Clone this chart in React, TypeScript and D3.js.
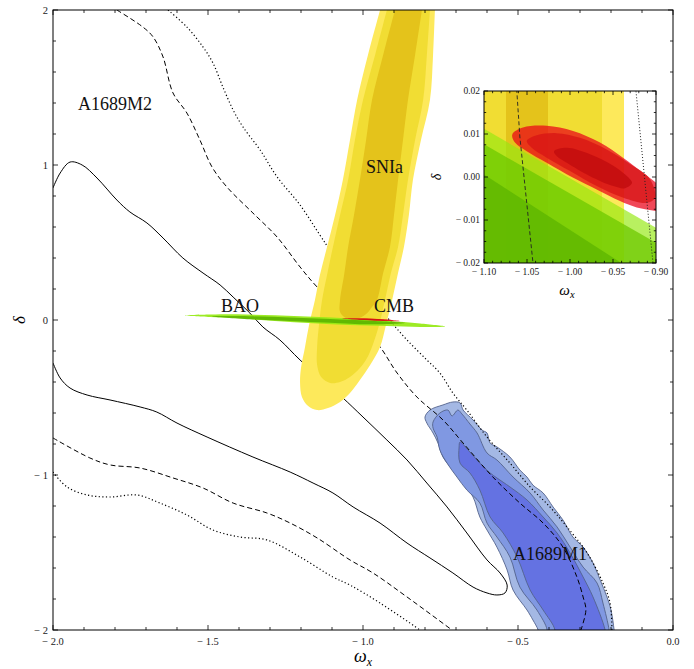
import React from 'react';
import * as d3 from 'd3';

type P = [number, number];

// ---------- A1689M2 (black contours) ----------
const m2Solid: P[] = [
  [-2.0, 0.852], [-1.977, 0.948], [-1.945, 1.019], [-1.906, 1.0], [-1.858, 0.916], [-1.794, 0.774],
  [-1.752, 0.697], [-1.697, 0.626], [-1.645, 0.529], [-1.581, 0.4], [-1.516, 0.303], [-1.461, 0.226],
  [-1.419, 0.148], [-1.365, 0.045], [-1.323, -0.045], [-1.268, -0.129], [-1.203, -0.258], [-1.068, -0.497],
  [-1.0, -0.626], [-0.923, -0.774], [-0.858, -0.903], [-0.794, -1.052], [-0.729, -1.206], [-0.665, -1.374],
  [-0.6, -1.548], [-0.558, -1.632], [-0.535, -1.71], [-0.542, -1.761], [-0.568, -1.774], [-0.6, -1.761],
  [-0.645, -1.723], [-0.71, -1.632], [-0.784, -1.535], [-0.858, -1.439], [-0.945, -1.31], [-1.032, -1.206],
  [-1.097, -1.116], [-1.161, -1.052], [-1.235, -0.981], [-1.355, -0.884], [-1.503, -0.755], [-1.6, -0.665],
  [-1.665, -0.594], [-1.719, -0.561], [-1.816, -0.516], [-1.89, -0.484], [-1.945, -0.439], [-1.977, -0.374],
  [-2.0, -0.277],
];
const m2DashedUpper: P[] = [
  [-1.794, 2.0], [-1.71, 1.89], [-1.677, 1.826], [-1.645, 1.697], [-1.613, 1.465], [-1.568, 1.335],
  [-1.526, 1.161], [-1.487, 0.987], [-1.439, 0.858], [-1.355, 0.69], [-1.277, 0.535], [-1.203, 0.342],
  [-1.148, 0.213], [-1.052, 0.032], [-0.955, -0.148], [-0.89, -0.342], [-0.826, -0.497], [-0.742, -0.645],
  [-0.677, -0.794], [-0.581, -1.013], [-0.494, -1.181], [-0.419, -1.31], [-0.355, -1.465], [-0.31, -1.658],
  [-0.29, -1.787], [-0.281, -1.871], [-0.297, -2.0],
];
const m2DashedLower: P[] = [
  [-2.0, -0.761], [-1.881, -0.89], [-1.816, -0.935], [-1.719, -0.955], [-1.613, -1.019], [-1.516, -1.084],
  [-1.419, -1.181], [-1.31, -1.245], [-1.235, -1.31], [-1.148, -1.406], [-1.042, -1.548], [-0.968, -1.632],
  [-0.858, -1.787], [-0.713, -2.0],
];
const m2DottedUpper: P[] = [
  [-1.629, 2.0], [-1.568, 1.89], [-1.516, 1.761], [-1.484, 1.658], [-1.452, 1.503], [-1.419, 1.355],
  [-1.387, 1.245], [-1.332, 1.097], [-1.277, 0.923], [-1.203, 0.742], [-1.139, 0.548], [-1.106, 0.452],
  [-1.01, 0.226], [-0.923, 0.019], [-0.858, -0.129], [-0.794, -0.258], [-0.752, -0.342], [-0.71, -0.471],
  [-0.665, -0.581], [-0.6, -0.755], [-0.526, -0.923], [-0.461, -1.077], [-0.397, -1.206], [-0.342, -1.335],
  [-0.277, -1.503], [-0.226, -1.697], [-0.203, -1.826], [-0.197, -2.0],
];
const m2DottedLower: P[] = [
  [-2.0, -0.981], [-1.955, -1.077], [-1.89, -1.129], [-1.816, -1.142], [-1.729, -1.129], [-1.655, -1.181],
  [-1.568, -1.258], [-1.484, -1.355], [-1.397, -1.4], [-1.31, -1.419], [-1.203, -1.529], [-1.097, -1.658],
  [-1.042, -1.71], [-0.945, -1.826], [-0.816, -2.0],
];

// ---------- SNIa ----------
const snOuter: P[] = [
  [-0.932, 2.1], [-0.945, 2.0], [-0.984, 1.71], [-1.019, 1.419], [-1.042, 1.161], [-1.065, 0.903],
  [-1.09, 0.677], [-1.116, 0.471], [-1.139, 0.29], [-1.155, 0.129], [-1.174, -0.032], [-1.187, -0.174],
  [-1.2, -0.31], [-1.203, -0.406], [-1.197, -0.497], [-1.177, -0.555], [-1.148, -0.581], [-1.113, -0.568],
  [-1.074, -0.529], [-1.042, -0.471], [-1.01, -0.387], [-0.977, -0.29], [-0.945, -0.174], [-0.926, -0.032],
  [-0.906, 0.129], [-0.887, 0.303], [-0.868, 0.471], [-0.852, 0.677], [-0.839, 0.903], [-0.813, 1.161],
  [-0.784, 1.419], [-0.774, 1.71], [-0.768, 2.0], [-0.766, 2.1],
];
const snMid: P[] = [
  [-0.91, 2.1], [-0.923, 2.0], [-0.961, 1.71], [-1.0, 1.419], [-1.026, 1.161], [-1.048, 0.903],
  [-1.074, 0.677], [-1.097, 0.471], [-1.116, 0.29], [-1.132, 0.129], [-1.142, -0.032], [-1.148, -0.174],
  [-1.148, -0.29], [-1.135, -0.368], [-1.106, -0.406], [-1.074, -0.4], [-1.042, -0.368], [-1.01, -0.31],
  [-0.987, -0.245], [-0.971, -0.174], [-0.948, -0.032], [-0.929, 0.129], [-0.91, 0.303], [-0.887, 0.471],
  [-0.871, 0.677], [-0.855, 0.903], [-0.832, 1.161], [-0.806, 1.419], [-0.794, 1.71], [-0.784, 2.0],
  [-0.781, 2.1],
];
const snInner: P[] = [
  [-0.884, 2.1], [-0.897, 2.0], [-0.935, 1.71], [-0.971, 1.419], [-0.99, 1.161], [-1.01, 0.903],
  [-1.029, 0.677], [-1.048, 0.471], [-1.061, 0.29], [-1.074, 0.129], [-1.074, 0.052], [-1.055, 0.013],
  [-1.023, 0.006], [-0.99, 0.039], [-0.971, 0.084], [-0.955, 0.129], [-0.935, 0.303], [-0.913, 0.471],
  [-0.9, 0.677], [-0.887, 0.903], [-0.871, 1.161], [-0.855, 1.419], [-0.832, 1.71], [-0.81, 2.0],
  [-0.803, 2.1],
];

// ---------- BAO ----------
const baoOuter: P[] = [
  [-1.574, 0.029], [-1.494, 0.035], [-1.406, 0.037], [-1.284, 0.03], [-1.161, 0.021], [-1.042, 0.01],
  [-0.923, -0.005], [-0.816, -0.023], [-0.735, -0.042], [-0.816, -0.045], [-0.923, -0.039], [-1.042, -0.032],
  [-1.161, -0.021], [-1.284, -0.006], [-1.406, 0.011], [-1.494, 0.019],
];
const baoInner: P[] = [
  [-1.487, 0.023], [-1.365, 0.024], [-1.235, 0.016], [-1.106, 0.006], [-0.977, -0.005], [-0.865, -0.019],
  [-0.977, -0.028], [-1.106, -0.018], [-1.235, -0.006], [-1.365, 0.005],
];

// ---------- CMB ----------
const cmbOuter: P[] = [
  [-1.0671, 0.0099], [-1.0547, 0.0115], [-1.0271, 0.0119], [-0.9965, 0.0107], [-0.9651, 0.008],
  [-0.9384, 0.0045], [-0.9151, 0.001], [-0.9003, -0.0013], [-0.8837, -0.0044], [-0.8814, -0.0065],
  [-0.886, -0.0084], [-0.9003, -0.0079], [-0.9224, -0.0071], [-0.9419, -0.0056], [-0.969, -0.0029],
  [-0.9962, -0.0002], [-1.0271, 0.0033], [-1.0503, 0.006], [-1.064, 0.008],
];
const cmbMid: P[] = [
  [-1.0503, 0.0084], [-1.0387, 0.0097], [-1.0155, 0.0102], [-0.9884, 0.0091], [-0.9573, 0.0064],
  [-0.9302, 0.003], [-0.907, -0.0005], [-0.9012, -0.0048], [-0.9108, -0.006], [-0.938, -0.0048],
  [-0.969, -0.0021], [-1.0, 0.0014], [-1.0271, 0.0045], [-1.0445, 0.0068],
];
const cmbInner: P[] = [
  [-1.0186, 0.006], [-1.0038, 0.0068], [-0.9767, 0.0053], [-0.9497, 0.0026], [-0.9302, -0.0005],
  [-0.9279, -0.0014], [-0.936, -0.0026], [-0.9497, -0.0021], [-0.9767, 0.0002], [-1.0038, 0.0033],
  [-1.0155, 0.0049],
];

// ---------- A1689M1 (blue) ----------
const m1Outer: P[] = [
  [-0.8, -0.626], [-0.784, -0.581], [-0.742, -0.548], [-0.71, -0.529], [-0.687, -0.535], [-0.677, -0.581],
  [-0.645, -0.645], [-0.616, -0.71], [-0.6, -0.729], [-0.59, -0.794], [-0.568, -0.819], [-0.526, -0.884],
  [-0.494, -0.968], [-0.471, -1.013], [-0.452, -1.065], [-0.419, -1.116], [-0.387, -1.206], [-0.355, -1.29],
  [-0.323, -1.4], [-0.29, -1.465], [-0.258, -1.568], [-0.235, -1.677], [-0.213, -1.787], [-0.2, -1.871],
  [-0.19, -2.0], [-0.187, -2.065], [-0.429, -2.065], [-0.435, -2.0], [-0.452, -1.935], [-0.471, -1.871],
  [-0.516, -1.742], [-0.535, -1.613], [-0.568, -1.465], [-0.6, -1.355], [-0.623, -1.271], [-0.645, -1.142],
  [-0.677, -1.052], [-0.71, -0.968], [-0.742, -0.884], [-0.758, -0.794], [-0.774, -0.729], [-0.794, -0.665],
];
const m1Mid: P[] = [
  [-0.774, -0.658], [-0.752, -0.6], [-0.726, -0.581], [-0.713, -0.619], [-0.694, -0.581], [-0.681, -0.606],
  [-0.655, -0.671], [-0.632, -0.729], [-0.6, -0.858], [-0.568, -0.903], [-0.516, -1.013], [-0.461, -1.116],
  [-0.419, -1.226], [-0.374, -1.335], [-0.332, -1.465], [-0.29, -1.594], [-0.245, -1.697], [-0.226, -1.826],
  [-0.206, -2.0], [-0.203, -2.065], [-0.41, -2.065], [-0.406, -2.0], [-0.439, -1.871], [-0.494, -1.723],
  [-0.526, -1.529], [-0.568, -1.4], [-0.6, -1.31], [-0.623, -1.181], [-0.665, -1.097], [-0.697, -1.013],
  [-0.729, -0.923], [-0.752, -0.839], [-0.761, -0.755], [-0.774, -0.697],
];
const m1Inner: P[] = [
  [-0.687, -0.787], [-0.661, -0.839], [-0.623, -0.923], [-0.59, -0.987], [-0.568, -1.019], [-0.526, -1.077],
  [-0.471, -1.161], [-0.419, -1.271], [-0.374, -1.374], [-0.332, -1.503], [-0.29, -1.658], [-0.258, -1.787],
  [-0.219, -2.0], [-0.216, -2.065], [-0.387, -2.065], [-0.381, -2.0], [-0.419, -1.871], [-0.461, -1.742],
  [-0.503, -1.529], [-0.548, -1.374], [-0.59, -1.271], [-0.623, -1.097], [-0.655, -0.987], [-0.687, -0.923],
  [-0.69, -0.819],
];

// ---------- Inset (zoom around ω=-1, δ=0) ----------
const insetSnOuter: [number, number] = [-1.2, -0.9372];
const insetSnMid: [number, number] = [-1.2, -0.9628];
const insetSnInner: [number, number] = [-1.0744, -1.0256];
const insetBaoLight: P[] = [[-1.1, 0.0112], [-0.9, -0.0118]];
const insetBaoMid: P[] = [[-1.1, 0.0076], [-0.9, -0.0153]];
const insetBaoDark: P[] = [[-1.1, 0.0006], [-0.9, -0.0252]];
const insetDashed: P[] = [[-1.0625, 0.022], [-1.0583, 0.0093], [-1.042, -0.022]];
const insetDotted: P[] = [[-0.9243, 0.022], [-0.9025, -0.022]];

// ---------- Ticks ----------
const xMajor = [-2, -1.5, -1, -0.5, 0];
const xMajorLabels = ['\u2212\u00a02.0', '\u2212\u00a01.5', '\u2212\u00a01.0', '\u2212\u00a00.5', '0.0'];
const yMajor = [-2, -1, 0, 1, 2];
const yMajorLabels = ['\u2212\u00a02', '\u2212\u00a01', '0', '1', '2'];
const ixMajor = [-1.1, -1.05, -1.0, -0.95, -0.9];
const ixMajorLabels = ['\u2212\u00a01.10', '\u2212\u00a01.05', '\u2212\u00a01.00', '\u2212\u00a00.95', '\u2212\u00a00.90'];
const iyMajor = [-0.02, -0.01, 0, 0.01, 0.02];
const iyMajorLabels = ['\u2212\u00a00.02', '\u2212\u00a00.01', '0.00', '0.01', '0.02'];

const FONT = '"Liberation Serif", "Times New Roman", serif';

const x = d3.scaleLinear().domain([-2, 0]).range([53, 673]);
const y = d3.scaleLinear().domain([-2, 2]).range([630, 10]);
const xi = d3.scaleLinear().domain([-1.1, -0.9]).range([484, 656]);
const yi = d3.scaleLinear().domain([-0.02, 0.02]).range([263, 91]);

const openLine = d3.line<P>().x(d => x(d[0])).y(d => y(d[1])).curve(d3.curveCatmullRom.alpha(0.5));
const closedArea = d3.line<P>().x(d => x(d[0])).y(d => y(d[1])).curve(d3.curveCatmullRomClosed.alpha(0.5));
const iClosed = d3.line<P>().x(d => xi(d[0])).y(d => yi(d[1])).curve(d3.curveCatmullRomClosed.alpha(0.5));
const iLine = d3.line<P>().x(d => xi(d[0])).y(d => yi(d[1]));

function bandPoly(edge: P[]): string {
  const slope = (edge[1][1] - edge[0][1]) / (edge[1][0] - edge[0][0]);
  const pts: P[] = [
    [edge[0][0] - 0.01, edge[0][1] - 0.01 * slope],
    ...edge,
    [edge[edge.length - 1][0] + 0.01, edge[edge.length - 1][1] + 0.01 * slope],
    [-0.89, -0.03],
    [-1.11, -0.03],
  ];
  return d3.line<P>().x(d => xi(d[0])).y(d => yi(d[1]))(pts) + 'Z';
}

function Ticks({ sx, sy, major, minor, side, majLen, minLen }: any) {
  const els: any[] = [];
  const [x0, x1] = sx.range();
  const [y0, y1] = sy.range();
  const all = [...major.map((v: number) => [v, majLen]), ...minor.map((v: number) => [v, minLen])];
  all.forEach(([v, len]: [number, number], i: number) => {
    if (side === 'bottom' || side === 'top') {
      const px = sx(v);
      const yy = side === 'bottom' ? y0 : y1;
      const dir = side === 'bottom' ? -1 : 1;
      els.push(<line key={side + i} x1={px} x2={px} y1={yy} y2={yy + dir * len} stroke="#000" strokeWidth={0.8} />);
    } else {
      const py = sy(v);
      const xx = side === 'left' ? x0 : x1;
      const dir = side === 'left' ? 1 : -1;
      els.push(<line key={side + i} x1={xx} x2={xx + dir * len} y1={py} y2={py} stroke="#000" strokeWidth={0.8} />);
    }
  });
  return <g>{els}</g>;
}

export default function App() {
  const xMinor = d3.range(-2, 0.0001, 0.1).filter(v => !xMajor.some(m => Math.abs(m - v) < 1e-6));
  const yMinor = d3.range(-2, 2.0001, 0.2).filter(v => !yMajor.some(m => Math.abs(m - v) < 1e-6));
  const ixMinor = d3.range(-1.1, -0.8999, 0.01).filter(v => !ixMajor.some(m => Math.abs(m - v) < 1e-6));
  const iyMinor = d3.range(-0.02, 0.02001, 0.0025).filter(v => !iyMajor.some(m => Math.abs(m - v) < 1e-7));

  const blueStroke = '#52628c';

  return (
    <svg width={694} height={669} style={{ position: 'absolute', left: 0, top: 0, background: '#fff' }} fontFamily={FONT}>
      <defs>
        <clipPath id="mainClip"><rect x={53} y={10} width={620} height={620} /></clipPath>
        <clipPath id="insetClip"><rect x={484} y={91} width={172} height={172} /></clipPath>
      </defs>
      <rect x={0} y={0} width={694} height={669} fill="#fff" />

      <g clipPath="url(#mainClip)">
        <path d={closedArea(m1Outer)!} fill="#a4b8e4" stroke={blueStroke} strokeWidth={0.9} />
        <path d={closedArea(m1Mid)!} fill="#8098e2" stroke={blueStroke} strokeWidth={0.9} />
        <path d={closedArea(m1Inner)!} fill="#6472e2" stroke={blueStroke} strokeWidth={0.9} />
        <path d={openLine(m2Solid)!} fill="none" stroke="#000" strokeWidth={1} />
        <path d={openLine(m2DashedUpper)!} fill="none" stroke="#000" strokeWidth={1} strokeDasharray="5,3" />
        <path d={openLine(m2DashedLower)!} fill="none" stroke="#000" strokeWidth={1} strokeDasharray="5,3" />
        <path d={openLine(m2DottedUpper)!} fill="none" stroke="#000" strokeWidth={1.2} strokeDasharray="1.2,2.4" />
        <path d={openLine(m2DottedLower)!} fill="none" stroke="#000" strokeWidth={1.2} strokeDasharray="1.2,2.4" />
        <path d={closedArea(snOuter)!} fill="#fde95b" />
        <path d={closedArea(snMid)!} fill="#f1dd33" />
        <path d={closedArea(snInner)!} fill="#e4c31b" />
        <path d={closedArea(baoOuter)!} fill="#95e912" opacity={0.92} />
        <path d={closedArea(baoInner)!} fill="#5cb400" opacity={0.9} />
        <path d={closedArea(cmbOuter)!} fill="#ea0117" opacity={0.72} />
        <path d={closedArea(cmbMid)!} fill="#d71414" opacity={0.75} />
        <path d={closedArea(cmbInner)!} fill="#c20b0e" opacity={0.8} />
      </g>

      <g fontSize={18} fill="#111">
        <text x={78} y={110}>A1689M2</text>
        <text x={366} y={173}>SNIa</text>
        <text x={221} y={312}>BAO</text>
        <text x={374} y={312}>CMB</text>
        <text x={513} y={560}>A1689M1</text>
      </g>

      <rect x={53} y={10} width={620} height={620} fill="none" stroke="#000" strokeWidth={1} />
      <Ticks sx={x} sy={y} major={xMajor} minor={xMinor} side="bottom" majLen={5} minLen={3} />
      <Ticks sx={x} sy={y} major={xMajor} minor={xMinor} side="top" majLen={5} minLen={3} />
      <Ticks sx={x} sy={y} major={yMajor} minor={yMinor} side="left" majLen={5} minLen={3} />
      <Ticks sx={x} sy={y} major={yMajor} minor={yMinor} side="right" majLen={5} minLen={3} />
      <g fontSize={10.5} fill="#222">
        {xMajor.map((v, i) => (
          <text key={'xl' + i} x={x(v)} y={645} textAnchor="middle">{xMajorLabels[i]}</text>
        ))}
        {yMajor.map((v, i) => (
          <text key={'yl' + i} x={48} y={y(v) + 3.5} textAnchor="end">{yMajorLabels[i]}</text>
        ))}
      </g>
      <text x={363} y={662} textAnchor="middle" fontSize={18} fontStyle="italic">ω<tspan fontSize={12} dy={4}>x</tspan></text>
      <text transform="translate(25,320) rotate(-90)" textAnchor="middle" fontSize={17} fontStyle="italic">δ</text>

      <rect x={484} y={91} width={172} height={172} fill="#fff" />
      <g clipPath="url(#insetClip)">
        <rect x={xi(insetSnOuter[0])} y={80} width={xi(insetSnOuter[1]) - xi(insetSnOuter[0])} height={200} fill="#fde95b" />
        <rect x={xi(insetSnMid[0])} y={80} width={xi(insetSnMid[1]) - xi(insetSnMid[0])} height={200} fill="#f1dd33" />
        <rect x={xi(insetSnInner[0])} y={80} width={xi(insetSnInner[1]) - xi(insetSnInner[0])} height={200} fill="#e4c31b" />
        <path d={bandPoly(insetBaoLight)} fill="#95e912" opacity={0.67} />
        <path d={bandPoly(insetBaoMid)} fill="#6ec800" opacity={0.75} />
        <path d={bandPoly(insetBaoDark)} fill="#5cb400" opacity={0.75} />
        <path d={iClosed(cmbOuter)!} fill="#ea0117" opacity={0.72} />
        <path d={iClosed(cmbMid)!} fill="#d71414" opacity={0.75} />
        <path d={iClosed(cmbInner)!} fill="#c20b0e" opacity={0.8} />
        <path d={iLine(insetDashed)!} fill="none" stroke="#222" strokeWidth={0.9} strokeDasharray="4,2.5" />
        <path d={iLine(insetDotted)!} fill="none" stroke="#222" strokeWidth={1} strokeDasharray="1,2" />
      </g>
      <rect x={484} y={91} width={172} height={172} fill="none" stroke="#000" strokeWidth={1} />
      <Ticks sx={xi} sy={yi} major={ixMajor} minor={ixMinor} side="bottom" majLen={4} minLen={2.2} />
      <Ticks sx={xi} sy={yi} major={ixMajor} minor={ixMinor} side="top" majLen={4} minLen={2.2} />
      <Ticks sx={xi} sy={yi} major={iyMajor} minor={iyMinor} side="left" majLen={4} minLen={2.2} />
      <Ticks sx={xi} sy={yi} major={iyMajor} minor={iyMinor} side="right" majLen={4} minLen={2.2} />
      <g fontSize={9.5} fill="#222">
        {ixMajor.map((v, i) => (
          <text key={'ixl' + i} x={xi(v)} y={275} textAnchor="middle">{ixMajorLabels[i]}</text>
        ))}
        {iyMajor.map((v, i) => (
          <text key={'iyl' + i} x={480} y={yi(v) + 3.2} textAnchor="end">{iyMajorLabels[i]}</text>
        ))}
      </g>
      <text x={567} y={295} textAnchor="middle" fontSize={15} fontStyle="italic">ω<tspan fontSize={10.5} dy={3}>x</tspan></text>
      <text transform="translate(441,177) rotate(-90)" textAnchor="middle" fontSize={14} fontStyle="italic">δ</text>
    </svg>
  );
}
